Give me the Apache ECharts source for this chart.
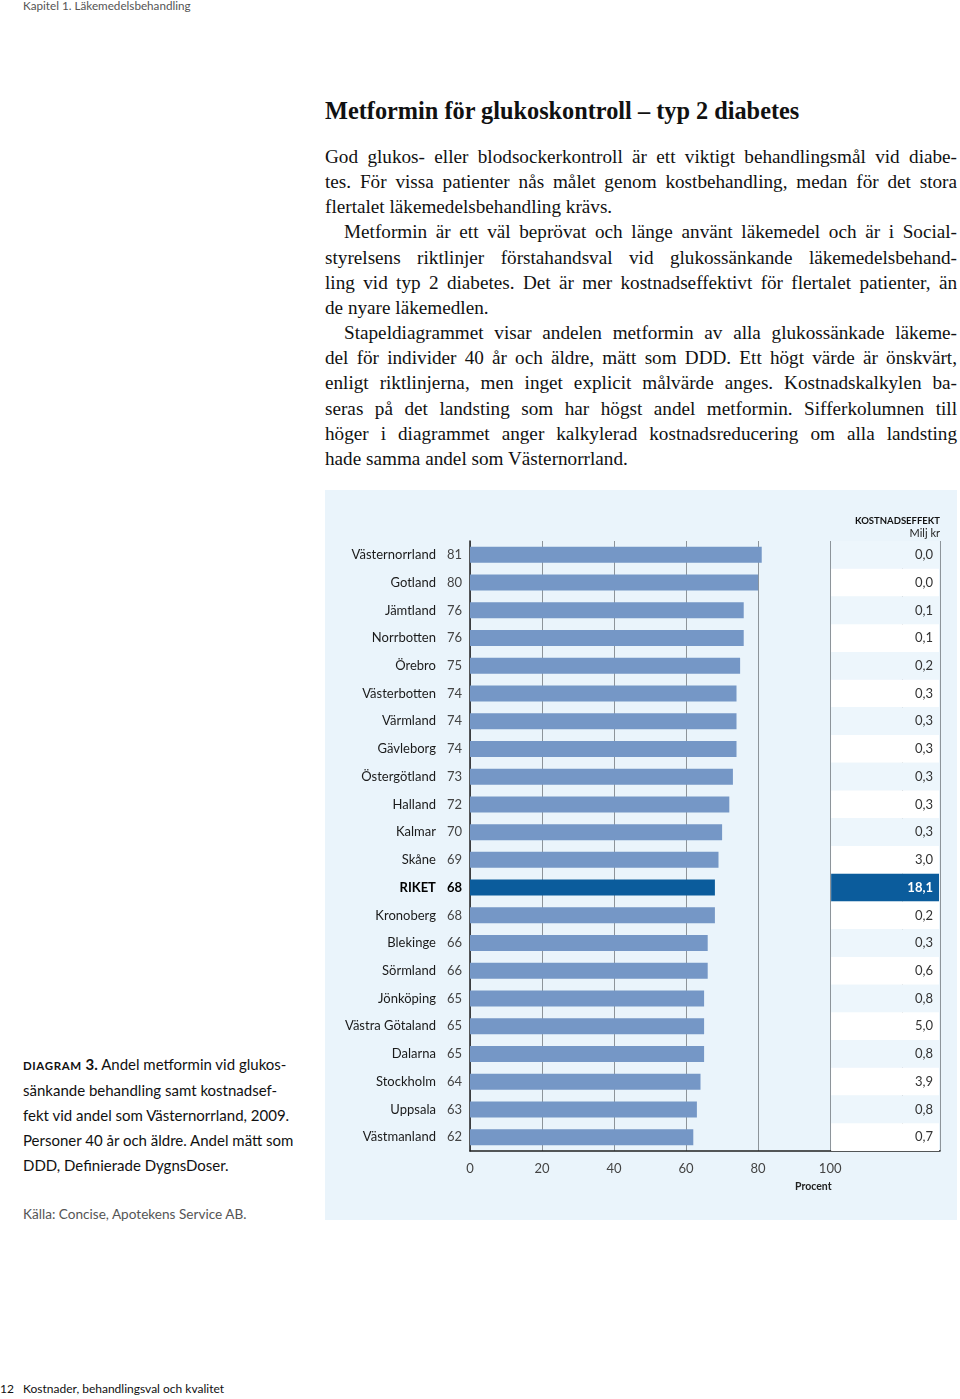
<!DOCTYPE html>
<html>
<head>
<meta charset="utf-8">
<script src="https://cdn.jsdelivr.net/npm/echarts@6/dist/echarts.min.js"></script>
<style>
  html, body { margin: 0; padding: 0; background: #fff; }
  body { width: 960px; height: 1399px; position: relative; overflow: hidden; }
  .sans { font-family: Lato, "Open Sans", sans-serif; }
  .serif { font-family: "Liberation Serif", "DejaVu Serif", serif; color: #111; }
  .abs { position: absolute; }
  #header { left: 23px; top: -2px; font-size: 11.7px; color: #555; }
  #footer { left: 0; top: 1381px; font-size: 12px; color: #111; width: 400px; }
  #footer span { position: absolute; top: 0; }
  #title { left: 325px; top: 97px; font-size: 24.3px; font-weight: bold; }
  #text { left: 325px; top: 144px; width: 632px; font-size: 19.2px; line-height: 25.15px; }
  #text .l { white-space: nowrap; text-align: justify; text-align-last: justify; }
  #text .e { white-space: nowrap; text-align: left; }
  #text .i { text-indent: 19px; }
  #caption { left: 23px; top: 1052px; font-size: 15px; line-height: 25px; color: #111; }
  #caption b.sc { font-size: 11.5px; letter-spacing: 0.6px; }
  #source { left: 23px; top: 1206px; font-size: 13.6px; color: #555; }
  #mapChart { left: 325px; top: 490px; width: 632px; height: 730px; }
</style>
</head>
<body>
<div id="header" class="abs sans">Kapitel 1. Läkemedelsbehandling</div>

<div id="title" class="abs serif">Metformin för glukoskontroll – typ 2 diabetes</div>

<div id="text" class="abs serif">
  <div class="l">God glukos- eller blodsockerkontroll är ett viktigt behandlingsmål vid diabe-</div>
  <div class="l">tes. För vissa patienter nås målet genom kostbehandling, medan för det stora</div>
  <div class="e">flertalet läkemedelsbehandling krävs.</div>
  <div class="l i">Metformin är ett väl beprövat och länge använt läkemedel och är i Social-</div>
  <div class="l">styrelsens riktlinjer förstahandsval vid glukossänkande läkemedelsbehand-</div>
  <div class="l">ling vid typ 2 diabetes. Det är mer kostnadseffektivt för flertalet patienter, än</div>
  <div class="e">de nyare läkemedlen.</div>
  <div class="l i">Stapeldiagrammet visar andelen metformin av alla glukossänkade läkeme-</div>
  <div class="l">del för individer 40 år och äldre, mätt som DDD. Ett högt värde är önskvärt,</div>
  <div class="l">enligt riktlinjerna, men inget explicit målvärde anges. Kostnadskalkylen ba-</div>
  <div class="l">seras på det landsting som har högst andel metformin. Sifferkolumnen till</div>
  <div class="l">höger i diagrammet anger kalkylerad kostnadsreducering om alla landsting</div>
  <div class="e">hade samma andel som Västernorrland.</div>
</div>

<div id="mapChart" class="abs"></div>

<div id="caption" class="abs sans">
  <b class="sc">DIAGRAM</b> <b>3.</b> Andel metformin vid glukos-<br>
  sänkande behandling samt kostnadsef-<br>
  fekt vid andel som Västernorrland, 2009.<br>
  Personer 40 år och äldre. Andel mätt som<br>
  DDD, Definierade DygnsDoser.
</div>
<div id="source" class="abs sans">Källa: Concise, Apotekens Service AB.</div>

<div id="footer" class="abs sans"><span style="left:0">12</span><span style="left:23px">Kostnader, behandlingsval och kvalitet</span></div>

<script>
// landsting, andel metformin (%) och kostnadseffekt (Milj kr)
const regions = ['Västernorrland', 'Gotland', 'Jämtland', 'Norrbotten', 'Örebro', 'Västerbotten',
  'Värmland', 'Gävleborg', 'Östergötland', 'Halland', 'Kalmar', 'Skåne', 'RIKET', 'Kronoberg',
  'Blekinge', 'Sörmland', 'Jönköping', 'Västra Götaland', 'Dalarna', 'Stockholm', 'Uppsala', 'Västmanland']
const shares = [81, 80, 76, 76, 75, 74, 74, 74, 73, 72, 70, 69, 68, 68, 66, 66, 65, 65, 65, 64, 63, 62]
const costs = [0.0, 0.0, 0.1, 0.1, 0.2, 0.3, 0.3, 0.3, 0.3, 0.3, 0.3, 3.0, 18.1, 0.2, 0.3, 0.6, 0.8, 5.0, 0.8, 3.9, 0.8, 0.7]
const xTicks = [0, 20, 40, 60, 80, 100]

const TOTAL = 'RIKET'
const X_MAX = 130.5
const barColor = '#7597c6'
const totalColor = '#0b5c9c'
const font = 'Lato, "Open Sans", sans-serif'

const chartDom = echarts.init(document.getElementById('mapChart'))
chartDom.setOption({
  backgroundColor: '#eaf4fb',
  animation: false,
  textStyle: { fontFamily: font },
  grid: { left: 145, top: 51, width: 470, height: 610 },
  xAxis: {
    type: 'value',
    min: 0,
    max: X_MAX,
    interval: 20,
    axisLine: { show: true, lineStyle: { color: '#222', width: 1.5 } },
    axisTick: { show: false },
    axisLabel: {
      margin: 11,
      color: '#444',
      fontSize: 13,
      fontFamily: font,
      formatter: v => (xTicks.indexOf(v) >= 0 ? String(v) : '')
    },
    splitLine: { show: true, lineStyle: { color: '#8d949a', width: 1 } }
  },
  yAxis: {
    type: 'category',
    inverse: true,
    data: regions,
    axisLine: { show: true, lineStyle: { color: '#222', width: 1.5 } },
    axisTick: { show: false },
    axisLabel: {
      margin: 8,
      formatter: (name, i) => {
        const b = name === TOTAL ? 'b' : ''
        return '{n' + b + '|' + name + '}{v' + b + '|' + shares[i] + '}'
      },
      rich: {
        n: { fontSize: 13, color: '#1a1a1a', fontFamily: font, padding: [0, 11, 0, 0] },
        v: { fontSize: 13, color: '#444', fontFamily: font },
        nb: { fontSize: 13, color: '#000', fontWeight: 'bold', fontFamily: font, padding: [0, 11, 0, 0] },
        vb: { fontSize: 13, color: '#000', fontWeight: 'bold', fontFamily: font }
      }
    }
  },
  graphic: [
    {
      type: 'text', right: 17, top: 26,
      style: { text: 'KOSTNADSEFFEKT', font: 'bold 9.5px ' + font, fill: '#111', textAlign: 'right' }
    },
    {
      type: 'text', right: 17, top: 38,
      style: { text: 'Milj kr', font: '11px ' + font, fill: '#222', textAlign: 'right' }
    },
    {
      type: 'text', left: 470, top: 691,
      style: { text: 'Procent', font: 'bold 10.5px ' + font, fill: '#222' }
    }
  ],
  series: [{
    type: 'bar',
    barWidth: 16,
    data: shares.map((v, i) => ({
      value: v,
      itemStyle: { color: regions[i] === TOTAL ? totalColor : barColor }
    }))
  }, {
    // sifferkolumnen till höger
    type: 'custom',
    data: costs.map((c, i) => [c, i]),
    encode: { x: 0, y: 1 },
    z: 3,
    renderItem: (params, api) => {
      const i = api.value(1)
      const start = api.coord([100, i])
      const end = api.coord([X_MAX, i])
      const band = api.size([0, 1])[1]
      const isTotal = regions[i] === TOTAL
      const fill = isTotal ? totalColor : (i % 2 === 0 ? '#edf6fc' : '#ffffff')
      return {
        type: 'group',
        children: [{
          type: 'rect',
          shape: { x: start[0] + 1, y: start[1] - band / 2, width: end[0] - start[0] - 2, height: band },
          style: { fill: fill }
        }, {
          type: 'text',
          style: {
            x: end[0] - 7,
            y: start[1],
            text: costs[i].toFixed(1).replace('.', ','),
            textAlign: 'right',
            textVerticalAlign: 'middle',
            font: (isTotal ? 'bold ' : '') + '13px ' + font,
            fill: isTotal ? '#fff' : '#333'
          }
        }]
      }
    }
  }]
})
</script>
</body>
</html>
